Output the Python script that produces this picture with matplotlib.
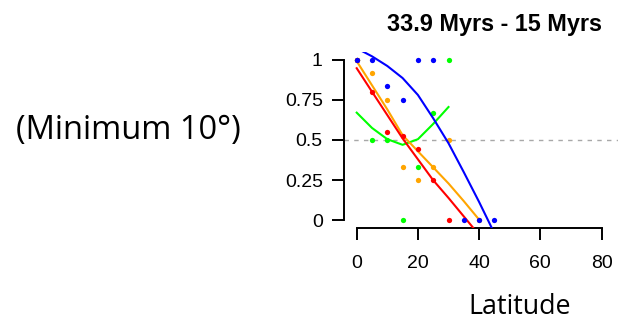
import matplotlib
matplotlib.use("Agg")
import matplotlib.pyplot as plt

# Observed proportions per latitude band
blue_x = [0, 5, 10, 15, 20, 25, 35, 40, 45]
blue_y = [1, 1, 0.833, 0.75, 1, 1, 0, 0, 0]
orange_x = [0, 5, 10, 15, 20, 25, 30, 40]
orange_y = [1, 0.917, 0.75, 0.333, 0.25, 0.333, 0.5, 0]
red_x = [0, 5, 10, 15, 20, 25, 30]
red_y = [1, 0.8, 0.55, 0.525, 0.444, 0.25, 0]
green_x = [0, 5, 10, 15, 20, 25, 30]
green_y = [1, 0.5, 0.5, 0, 0.333, 0.667, 1]

# Fitted curves
blue_fit_x = [0, 5, 10, 15, 20, 25, 30, 35, 40, 45]
blue_fit = [1.07, 1.02, 0.96, 0.885, 0.78, 0.635, 0.48, 0.30, 0.115, -0.08]
orange_fit_x = [0, 5, 10, 15, 20, 25, 30, 35, 40]
orange_fit = [0.99, 0.84, 0.69, 0.53, 0.43, 0.33, 0.23, 0.12, 0.005]
red_fit_x = [0, 5, 10, 15, 20, 25, 30, 35, 40]
red_fit = [0.946, 0.80, 0.655, 0.51, 0.38, 0.25, 0.14, 0.025, -0.09]
green_fit_x = [0, 5, 10, 15, 20, 25, 30]
green_fit = [0.67, 0.575, 0.505, 0.47, 0.505, 0.60, 0.705]

x_ticks = [0, 20, 40, 60, 80]
y_ticks = [0, 0.25, 0.5, 0.75, 1]
y_tick_labels = ["0", "0.25", "0.5", "0.75", "1"]

title = "33.9 Myrs - 15 Myrs"
side_note = "(Minimum 10°)"
x_label = "Latitude"

W, H = 618, 322
fig = plt.figure(figsize=(W / 100, H / 100), dpi=100)

# plot region in pixel terms
left_px, right_px, top_px, bottom_px = 344, 618, 52.3, 227.7
ax = fig.add_axes([left_px / W, 1 - bottom_px / H,
                   (right_px - left_px) / W, (bottom_px - top_px) / H])
ax.set_xlim(-4.15, 85.39)
ax.set_ylim(-0.045, 1.045)

ax.axhline(0.5, color="#A8A8A8", lw=1.0, linestyle=(0, (3.2, 3.8)), zorder=1)

series = [
    ("#00FF00", green_x, green_y, green_fit_x, green_fit),
    ("#FFA500", orange_x, orange_y, orange_fit_x, orange_fit),
    ("#FF0000", red_x, red_y, red_fit_x, red_fit),
    ("#0000FF", blue_x, blue_y, blue_fit_x, blue_fit),
]
z = 2
for color, px, py, fx, fy in series:
    ax.plot(px, py, "o", color=color, ms=3.8, mec="none", zorder=z)
    ax.plot(fx, fy, "-", color=color, lw=1.5, zorder=z + 0.5)
    z += 1

for side in ("top", "right"):
    ax.spines[side].set_visible(False)
ax.spines["left"].set_bounds(0, 1)
ax.spines["bottom"].set_bounds(0, 80)
for side in ("left", "bottom"):
    ax.spines[side].set_linewidth(1.4)
    ax.spines[side].set_color("black")

tick_font = dict(family="Liberation Sans", size=14)
ax.set_xticks(x_ticks)
ax.set_xticklabels([str(t) for t in x_ticks], **tick_font)
ax.set_yticks(y_ticks)
ax.set_yticklabels(y_tick_labels, **tick_font)
ax.tick_params(axis="x", length=8.8, width=1.4, pad=11)
ax.tick_params(axis="y", length=8.8, width=1.4, pad=6.5)

fig.text(494 / W, 1 - 30.7 / H, title, ha="center", va="baseline",
         family="Liberation Sans", weight="bold", size=16.8)
fig.text(520 / W, 1 - 314 / H, x_label, ha="center", va="baseline",
         family="Open Sans", size=19.4)
fig.text(128.5 / W, 1 - 139 / H, side_note, ha="center", va="baseline",
         family="Open Sans", size=23.5)

fig.savefig("out.png", dpi=100)
